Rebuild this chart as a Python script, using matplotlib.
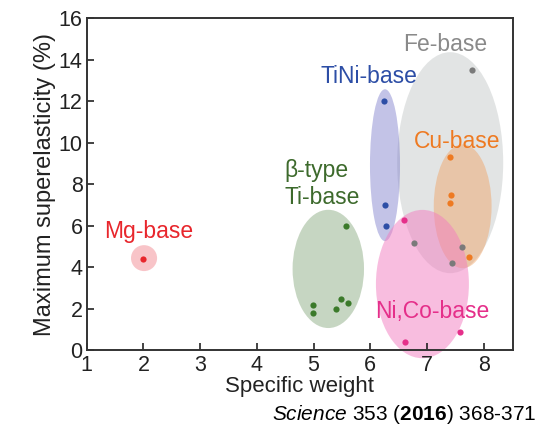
import matplotlib
matplotlib.use("Agg")
import matplotlib.pyplot as plt
from matplotlib.patches import Ellipse

plt.rcParams['font.family'] = ['Liberation Sans', 'DejaVu Sans']
plt.rcParams['mathtext.fontset'] = 'custom'
plt.rcParams['mathtext.rm'] = 'Liberation Sans'
plt.rcParams['mathtext.it'] = 'Liberation Sans:italic'
plt.rcParams['mathtext.bf'] = 'Liberation Sans:bold'

# data: specific weight vs max superelasticity (%)
mg_x = [2.0]
mg_y = [4.4]
tini_x = [6.24, 6.26, 6.27]
tini_y = [12.0, 7.0, 6.0]
fe_x = [7.79, 6.77, 7.61, 7.45]
fe_y = [13.5, 5.2, 5.0, 4.2]
cu_x = [7.40, 7.42, 7.41, 7.74]
cu_y = [9.3, 7.5, 7.1, 4.5]
nico_x = [6.60, 7.58, 6.62]
nico_y = [6.3, 0.9, 0.4]
ti_x = [5.57, 4.99, 4.99, 5.48, 5.39, 5.61]
ti_y = [6.0, 2.2, 1.8, 2.5, 2.0, 2.3]

# (center x, center y, width, height, face colour, alpha) for each shaded region
regions = [
    (7.41, 9.05, 1.87, 10.65, '#c6caca', 0.5),   # Fe
    (7.63, 6.95, 1.02, 5.97, '#f0a060', 0.45),   # Cu
    (6.26, 8.93, 0.53, 7.32, '#7a7acb', 0.45),   # TiNi
    (5.26, 3.93, 1.26, 5.70, '#8fae86', 0.5),    # Ti
    (2.01, 4.45, 0.46, 1.25, '#f28a92', 0.5),    # Mg
    (6.92, 3.20, 1.64, 7.15, '#f27cc0', 0.5),    # Ni,Co
]

fig = plt.figure(figsize=(5.39, 4.30), dpi=100)
ax = fig.add_axes([0.161, 0.185, 0.791, 0.772])

for cx, cy, w, h, fc, a in regions:
    e = Ellipse((cx, cy), w, h, facecolor=fc, edgecolor='none', alpha=a,
                clip_on=False, zorder=1)
    ax.add_patch(e)

ms = 20
ax.scatter(fe_x, fe_y, s=ms, color='#7a7a7a', zorder=3, linewidths=0)
ax.scatter(cu_x, cu_y, s=ms, color='#ee7a22', zorder=3, linewidths=0)
ax.scatter(tini_x, tini_y, s=ms, color='#2d4ea6', zorder=3, linewidths=0)
ax.scatter(ti_x, ti_y, s=ms, color='#3b7a2a', zorder=3, linewidths=0)
ax.scatter(mg_x, mg_y, s=ms, color='#e8262c', zorder=3, linewidths=0)
ax.scatter(nico_x, nico_y, s=ms, color='#e52f8a', zorder=3, linewidths=0)

fs = 16.5
ax.text(7.33, 14.44, 'Fe-base', color='#8a8a8a', fontsize=fs, ha='center', va='baseline')
ax.text(5.97, 12.9, 'TiNi-base', color='#2d4ea6', fontsize=fs, ha='center', va='baseline')
ax.text(7.53, 9.74, 'Cu-base', color='#ee7a22', fontsize=fs, ha='center', va='baseline')
ax.text(4.48, 8.36, 'β-type', color='#3d6a2c', fontsize=fs, ha='left', va='baseline')
ax.text(4.48, 7.06, 'Ti-base', color='#3d6a2c', fontsize=fs, ha='left', va='baseline')
ax.text(7.09, 1.55, 'Ni,Co-base', color='#e52f8a', fontsize=fs, ha='center', va='baseline')
ax.text(2.09, 5.40, 'Mg-base', color='#e8262c', fontsize=fs, ha='center', va='baseline')

ax.set_xlim(1, 8.52)
ax.set_ylim(0, 16)
ax.set_xticks(range(1, 9))
ax.set_yticks(range(0, 17, 2))
ax.tick_params(direction='in', length=5, width=1.2, labelsize=15.5,
               colors='#222222', pad=3)
for sp in ax.spines.values():
    sp.set_linewidth(1.4)
    sp.set_color('#333333')

ax.set_xlabel('Specific weight', fontsize=16, color='#222222', labelpad=0)
ax.set_ylabel('Maximum superelasticity (%)', fontsize=17, color='#222222', labelpad=2)

fig.text(0.995, 0.035, r'$\it{Science}$ 353 ($\bf{2016}$) 368-371', fontsize=15,
         ha='right', va='center', color='black')

fig.savefig('out.png', dpi=100)
